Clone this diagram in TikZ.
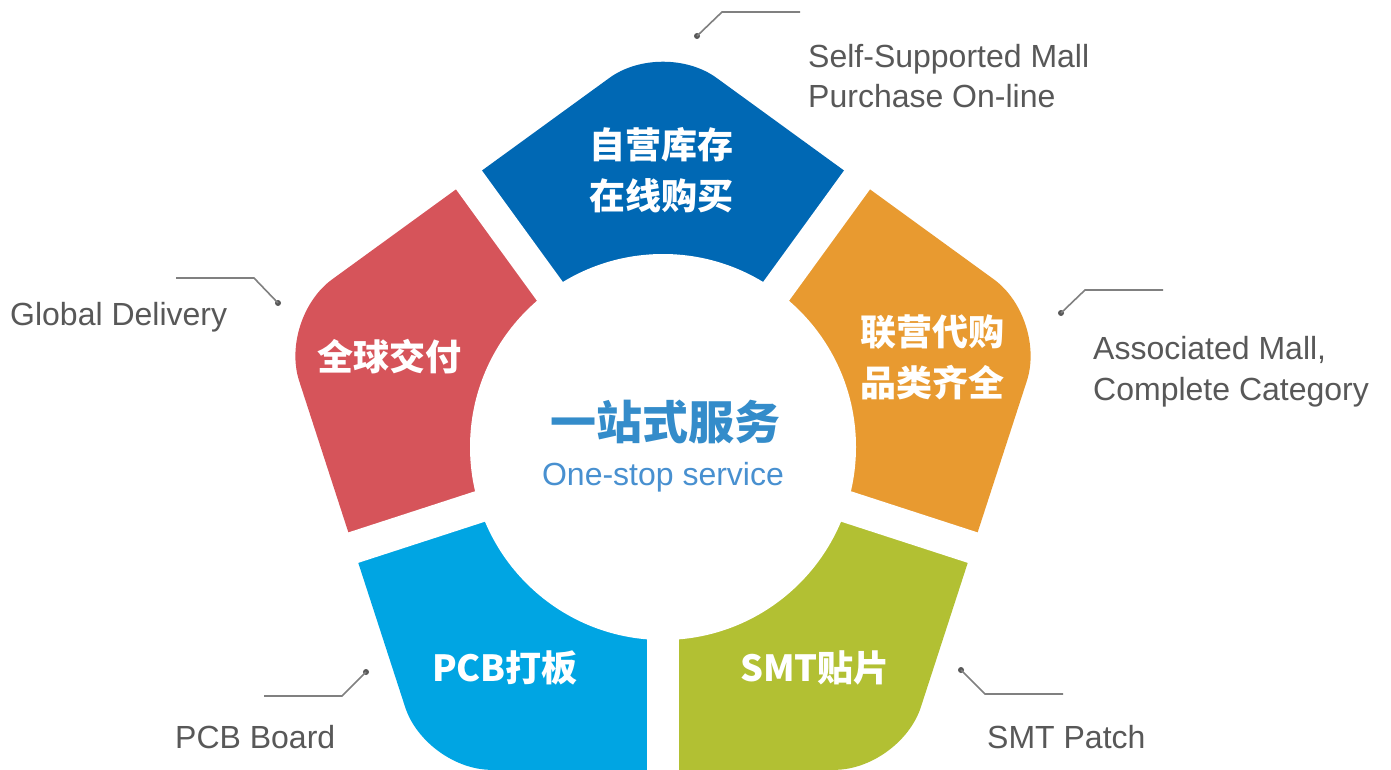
\documentclass[tikz,border=0pt]{standalone}
\usepackage{fontspec}
\setmainfont{Liberation Sans}
\newfontfamily\cjk{Noto Sans CJK SC}
\usetikzlibrary{calc}
\definecolor{segblue}{RGB}{0,104,180}
\definecolor{segred}{RGB}{214,84,90}
\definecolor{segorange}{RGB}{232,154,48}
\definecolor{segcyan}{RGB}{0,165,227}
\definecolor{seggreen}{RGB}{178,192,51}
\definecolor{titleblue}{RGB}{52,140,202}
\definecolor{subblue}{RGB}{72,144,208}
\definecolor{labelgray}{RGB}{88,88,88}
\definecolor{leadgray}{RGB}{128,128,128}
\begin{document}
\begin{tikzpicture}[x=1pt,y=1pt,
  seglabel/.style={text=white,font=\cjk\bfseries\fontsize{36}{40}\selectfont,inner sep=0pt},
  desc/.style={text=labelgray,font=\fontsize{32}{38}\selectfont,inner sep=0pt,anchor=base west},
  leader/.style={draw=leadgray,line width=1.6pt},
  leaddot/.style={circle,fill=labelgray,inner sep=0pt,minimum size=6pt},
  gapband/.style={draw=white,line width=32pt},
]
\useasboundingbox (0,0) rectangle (1391,-770);
\fill[white] (0,0) rectangle (1391,-770);
\coordinate (PC) at (663,-443);
\coordinate (C) at (663,-447);
\coordinate (V1) at ($(PC)+(90:404)$);
\coordinate (V2) at ($(PC)+(162:404)$);
\coordinate (V3) at ($(PC)+(234:404)$);
\coordinate (V4) at ($(PC)+(306:404)$);
\coordinate (V5) at ($(PC)+(18:404)$);
\coordinate (M) at ($(V3)!0.5!(V4)$);
\foreach \a/\c in {90/segblue,162/segred,234/segcyan,306/seggreen,18/segorange}{
  \begin{scope}
    \clip (C) -- ($(C)+(\a-36:1000)$) -- ($(C)+(\a:1000)$) -- ($(C)+(\a+36:1000)$) -- cycle;
    \fill[\c, rounded corners=66pt] (M) -- (V4) -- (V5) -- (V1) -- (V2) -- (V3) -- cycle;
  \end{scope}
}
\foreach \a in {54,126,198,270,342}{
  \draw[gapband] (C) -- ($(C)+(\a:500)$);
}
\fill[white] (C) circle[radius=193];

% segment labels
\node[seglabel] (b1) at (661,-145) {自营库存};
\node[seglabel] (b2) at (661,-196) {在线购买};
\node[seglabel] (r1) at (389,-357) {全球交付};
\node[seglabel] (o1) at (932,-332) {联营代购};
\node[seglabel] (o2) at (932,-383) {品类齐全};
\node[seglabel] (p1) at (505,-668) {PCB打板};
\node[seglabel] (s1) at (815,-668) {SMT贴片};

% centre
\node[inner sep=0pt,text=titleblue,font=\cjk\bfseries\fontsize{46}{50}\selectfont] (t1) at (665,-422) {一站式服务};
\node[inner sep=0pt,text=subblue,font=\fontsize{32}{38}\selectfont,anchor=base] (t2) at (663,-485) {One-stop service};

% descriptions
\node[desc] (d1a) at (808,-68) {Self-Supported Mall};
\node[desc] (d1b) at (808,-108) {Purchase On-line};
\node[desc] (d2) at (10,-325) {Global Delivery};
\node[desc] (d3a) at (1093,-359) {Associated Mall,};
\node[desc] (d3b) at (1093,-400) {Complete Category};
\node[desc] (d4) at (175,-748) {PCB Board};
\node[desc] (d5) at (987,-748) {SMT Patch};

% leader lines
\coordinate (k1) at (722,-12); \coordinate (e1) at (800,-12);
\node[leaddot] (p1d) at (697,-36) {};
\draw[leader] (p1d.center) -- (k1) -- (e1);
\coordinate (k2) at (254,-278); \coordinate (e2) at (176,-278);
\node[leaddot] (p2d) at (278,-303) {};
\draw[leader] (p2d.center) -- (k2) -- (e2);
\coordinate (k3) at (1085,-290); \coordinate (e3) at (1163,-290);
\node[leaddot] (p3d) at (1061,-313) {};
\draw[leader] (p3d.center) -- (k3) -- (e3);
\coordinate (k4) at (342,-696); \coordinate (e4) at (264,-696);
\node[leaddot] (p4d) at (366,-672) {};
\draw[leader] (p4d.center) -- (k4) -- (e4);
\coordinate (k5) at (985,-694); \coordinate (e5) at (1063,-694);
\node[leaddot] (p5d) at (961,-670) {};
\draw[leader] (p5d.center) -- (k5) -- (e5);
\end{tikzpicture}
\end{document}
